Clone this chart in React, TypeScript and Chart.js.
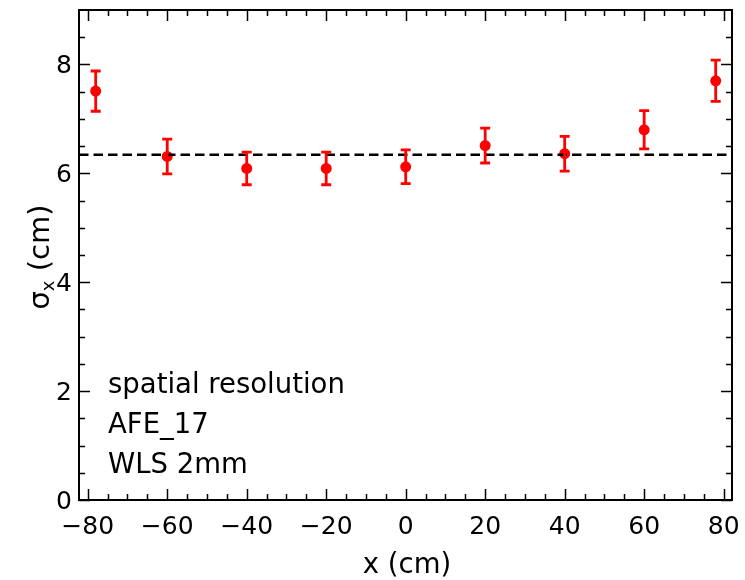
import React, { useEffect, useRef } from "react";
import { Chart, registerables } from "chart.js";

Chart.register(...registerables);

// ---- data ----
const positions = [-78, -60, -40, -20, 0, 20, 40, 60, 78];
const sigmaValues = [7.51, 6.31, 6.09, 6.09, 6.12, 6.51, 6.36, 6.8, 7.7];
const sigmaErrors = [0.37, 0.32, 0.3, 0.3, 0.31, 0.32, 0.32, 0.35, 0.38];
const fitValue = 6.34;
const xRange = [-82.2, 82.1];
const yRange = [0, 9];
const xTickValues = [-80, -60, -40, -20, 0, 20, 40, 60, 80];
const yTickValues = [0, 2, 4, 6, 8];
const xMinorStep = 5;
const yMinorStep = 0.5;
const annotationLines = ["spatial resolution", "AFE_17", "WLS 2mm"];
const xTitle = "x (cm)";
const yTitleMain = "σ";
const yTitleSub = "x";
const yTitleRest = " (cm)";

const FONT = "'DejaVu Sans', sans-serif";

const fmt = (v: number) => (v < 0 ? "\u2212" + Math.abs(v) : String(v));

const framePlugin = {
  id: "frameTicks",
  afterDatasetsDraw(chart: any) {
    const ctx = chart.ctx as CanvasRenderingContext2D;
    const xs = chart.scales.x;
    const ys = chart.scales.y;
    ctx.save();
    // error bars
    ctx.strokeStyle = "#ff0000";
    ctx.lineWidth = 2.8;
    positions.forEach((px, i) => {
      const x = xs.getPixelForValue(px);
      const y1 = ys.getPixelForValue(sigmaValues[i] + sigmaErrors[i]);
      const y2 = ys.getPixelForValue(sigmaValues[i] - sigmaErrors[i]);
      ctx.beginPath();
      ctx.moveTo(x, y1);
      ctx.lineTo(x, y2);
      ctx.moveTo(x - 5, y1);
      ctx.lineTo(x + 5, y1);
      ctx.moveTo(x - 5, y2);
      ctx.lineTo(x + 5, y2);
      ctx.stroke();
    });
    ctx.restore();
  },
  afterDraw(chart: any) {
    const ctx = chart.ctx as CanvasRenderingContext2D;
    const xs = chart.scales.x;
    const ys = chart.scales.y;
    const { left, right, top, bottom } = chart.chartArea;
    ctx.save();
    ctx.strokeStyle = "#000";
    ctx.lineWidth = 2;
    ctx.strokeRect(left, top, right - left, bottom - top);
    ctx.lineWidth = 1.5;
    const major = 11;
    const minor = 6;
    // x ticks
    for (let v = xTickValues[0]; v <= xTickValues[xTickValues.length - 1] + 1e-6; v += xMinorStep) {
      const isMajor = xTickValues.some((t) => Math.abs(t - v) < 1e-6);
      const len = isMajor ? major : minor;
      const x = Math.round(xs.getPixelForValue(v)) + 0.5;
      ctx.beginPath();
      ctx.moveTo(x, bottom);
      ctx.lineTo(x, bottom - len);
      ctx.moveTo(x, top);
      ctx.lineTo(x, top + len);
      ctx.stroke();
    }
    for (let v = yRange[0]; v < yRange[1] - 1e-6; v += yMinorStep) {
      const isMajor = yTickValues.some((t) => Math.abs(t - v) < 1e-6);
      const len = isMajor ? major : minor;
      const y = Math.round(ys.getPixelForValue(v)) + 0.5;
      ctx.beginPath();
      ctx.moveTo(left, y);
      ctx.lineTo(left + len, y);
      ctx.moveTo(right, y);
      ctx.lineTo(right - len, y);
      ctx.stroke();
    }
    // tick labels
    ctx.fillStyle = "#000";
    ctx.font = `25px ${FONT}`;
    ctx.textAlign = "center";
    ctx.textBaseline = "alphabetic";
    xTickValues.forEach((v) => {
      ctx.fillText(fmt(v), xs.getPixelForValue(v), bottom + 34);
    });
    ctx.textAlign = "right";
    yTickValues.forEach((v) => {
      ctx.fillText(fmt(v), left - 7, ys.getPixelForValue(v) + 9);
    });
    // x title
    ctx.font = `27.5px ${FONT}`;
    ctx.textAlign = "center";
    ctx.fillText(xTitle, 407, 573);
    // y title
    ctx.save();
    ctx.translate(49, 257);
    ctx.rotate(-Math.PI / 2);
    ctx.textAlign = "left";
    ctx.font = `29px ${FONT}`;
    const w1 = ctx.measureText(yTitleMain).width;
    const w3 = ctx.measureText(yTitleRest).width;
    ctx.font = `18px ${FONT}`;
    const w2 = ctx.measureText(yTitleSub).width;
    let cx = -(w1 + w2 + w3) / 2;
    ctx.font = `29px ${FONT}`;
    ctx.fillText(yTitleMain, cx, 0);
    cx += w1;
    ctx.font = `18px ${FONT}`;
    ctx.fillText(yTitleSub, cx, 5);
    cx += w2;
    ctx.font = `29px ${FONT}`;
    ctx.fillText(yTitleRest, cx, 0);
    ctx.restore();
    // annotation
    ctx.font = `27.5px ${FONT}`;
    ctx.textAlign = "left";
    annotationLines.forEach((t, i) => {
      ctx.fillText(t, left + 29, 393 + i * 40);
    });
    ctx.restore();
  },
};

export default function App() {
  const ref = useRef<HTMLCanvasElement>(null);
  useEffect(() => {
    document.body.style.margin = "0";
    const chart = new Chart(ref.current!, {
      type: "scatter",
      data: {
        datasets: [
          {
            type: "line",
            data: [
              { x: xRange[0], y: fitValue },
              { x: xRange[1], y: fitValue },
            ],
            borderColor: "#000",
            borderWidth: 2.5,
            borderDash: [9.5, 5],
            pointRadius: 0,
          } as any,
          {
            data: positions.map((x, i) => ({ x, y: sigmaValues[i] })),
            backgroundColor: "#ff0000",
            borderColor: "#ff0000",
            pointRadius: 5.5,
            pointBorderWidth: 0,
          },
        ],
      },
      options: {
        animation: false,
        responsive: false,
        layout: { padding: { top: 10, right: 13, left: 0, bottom: 0 } },
        plugins: { legend: { display: false }, tooltip: { enabled: false } },
        scales: {
          x: {
            type: "linear",
            min: xRange[0],
            max: xRange[1],
            ticks: { display: false },
            grid: { display: false },
            border: { display: false },
            afterFit: (s: any) => {
              s.height = 80;
            },
          },
          y: {
            type: "linear",
            min: yRange[0],
            max: yRange[1],
            ticks: { display: false },
            grid: { display: false },
            border: { display: false },
            afterFit: (s: any) => {
              s.width = 79;
            },
          },
        },
      },
      plugins: [framePlugin],
    });
    return () => chart.destroy();
  }, []);
  return (
    <div style={{ position: "absolute", left: 0, top: 0, width: 745, height: 580, background: "#fff" }}>
      <canvas ref={ref} width={745} height={580} />
    </div>
  );
}
